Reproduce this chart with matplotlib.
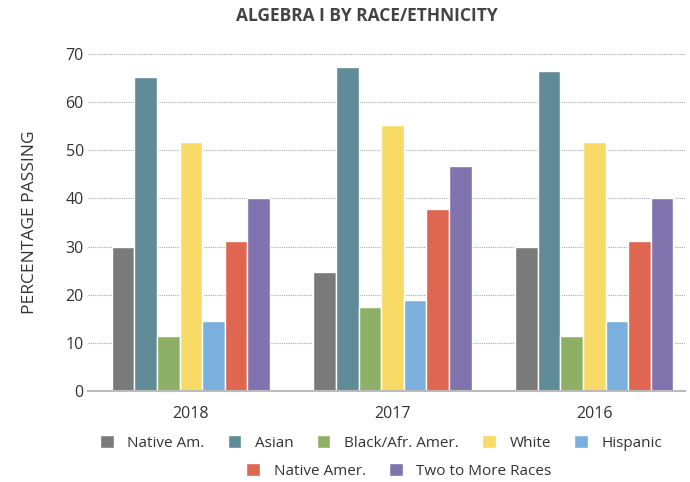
import numpy as np
from matplotlib import pyplot as plt
from matplotlib.patches import Patch

plt.rcParams['font.family'] = ['Open Sans', 'DejaVu Sans']

# data
years = ['2018', '2017', '2016']
groups = ['Native Am.', 'Asian', 'Black/Afr. Amer.', 'White', 'Hispanic',
          'Native Amer.', 'Two to More Races']
native_am = [30, 24.8, 30]
asian = [65.3, 67.4, 66.5]
black = [11.5, 17.4, 11.5]
white = [51.8, 55.3, 51.8]
hispanic = [14.5, 18.9, 14.5]
native_amer = [31.2, 37.8, 31.2]
two_more = [40, 46.7, 40]
colors = ['#7a7a7a', '#5f8c97', '#8db066', '#f8db66', '#7bb0de', '#df6650', '#8174ae']

series = [native_am, asian, black, white, hispanic, native_amer, two_more]

fig = plt.figure(figsize=(6.9, 4.82), dpi=100)
ax = fig.add_axes([88/690, 1-391/482, 597/690, 337/482])

x = np.arange(len(years))
slot = 0.112
for i, vals in enumerate(series):
    ax.bar(x + (i-3)*slot, vals, width=slot, color=colors[i],
           edgecolor='white', linewidth=1.0, zorder=3)

ax.set_ylim(0, 70)
ax.set_xlim(-0.51, 2.45)
ax.set_yticks(range(0, 71, 10))
ax.set_xticks(x)
ax.set_xticklabels(years)
ax.tick_params(axis='both', length=0, labelsize=11.5, colors='#333333')
ax.tick_params(axis='x', pad=11)
ax.tick_params(axis='y', pad=3)
ax.yaxis.grid(True, linestyle=(0, (1, 1)), color='#aaaaaa', linewidth=0.8, zorder=0)
for s in ['left', 'right', 'top']:
    ax.spines[s].set_visible(False)
ax.spines['bottom'].set_color('#bbbbbb')
ax.spines['bottom'].set_linewidth(1.5)
ax.spines['bottom'].set_zorder(4)

ax.set_ylabel('PERCENTAGE PASSING', fontsize=12.5, color='#333333', labelpad=20)
fig.text(0.532, 1-16/482, 'ALGEBRA I BY RACE/ETHNICITY', ha='center', va='center',
         fontsize=12.5, fontweight='bold', color='#444444')

handles = [Patch(facecolor=c, edgecolor='white') for c in colors]
leg1 = fig.legend(handles[:5], groups[:5], loc='center', ncol=5,
                  bbox_to_anchor=(381/690, 1-443/482), frameon=False, fontsize=11,
                  handlelength=0.9, handleheight=0.9, handletextpad=0.9,
                  columnspacing=1.5, labelcolor='#333333')
leg2 = fig.legend(handles[5:], groups[5:], loc='center', ncol=2,
                  bbox_to_anchor=(399/690, 1-471/482), frameon=False, fontsize=11,
                  handlelength=0.9, handleheight=0.9, handletextpad=0.9,
                  columnspacing=1.5, labelcolor='#333333')

plt.savefig('out.png', dpi=100)
